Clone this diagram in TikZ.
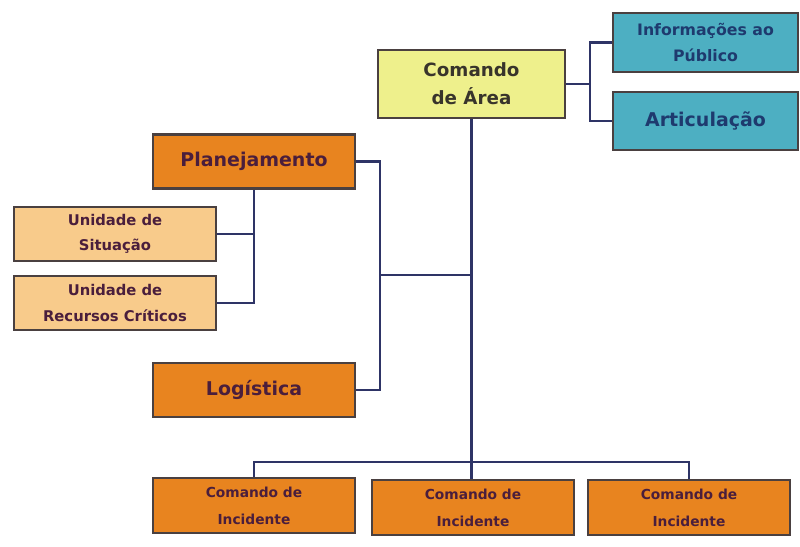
\documentclass[tikz,border=0pt]{standalone}
\usepackage{fontspec}
\setmainfont{DejaVu Sans}
\usepackage{xcolor}
\usepackage{tikz}
\usetikzlibrary{positioning,calc}

\definecolor{areafill}{HTML}{EEF08C}
\definecolor{tealfill}{HTML}{4DAFC2}
\definecolor{orgfill}{HTML}{E8841F}
\definecolor{lightorg}{HTML}{F8CB8B}
\definecolor{linecol}{HTML}{2E3466}
\definecolor{boxline}{HTML}{4A4040}
\definecolor{orgtext}{HTML}{4A1E3C}
\definecolor{tealtext}{HTML}{1E3A6E}

\begin{document}
\begin{tikzpicture}[x=0.025cm,y=-0.025cm,
    box/.style={draw=boxline, line width=1.7pt, align=center, font=\bfseries, inner sep=0pt},
    cmd/.style={box, fill=areafill, text=black!80!olive, minimum width=187*0.025cm, minimum height=68*0.025cm, font=\bfseries\fontsize{13}{20}\selectfont},
    staff/.style={box, fill=tealfill, text=tealtext, minimum width=185*0.025cm},
    sect/.style={box, fill=orgfill, text=orgtext, minimum width=202*0.025cm, minimum height=54*0.025cm, font=\bfseries\fontsize{13.5}{16}\selectfont},
    unit/.style={box, fill=lightorg, text=orgtext, minimum width=202*0.025cm, minimum height=54*0.025cm, font=\bfseries\fontsize{10.5}{18}\selectfont},
    inc/.style={box, fill=orgfill, text=orgtext, minimum width=202*0.025cm, minimum height=55*0.025cm, font=\bfseries\fontsize{9.8}{19}\selectfont},
    link/.style={draw=linecol, line width=2pt}]
    \useasboundingbox (0,0) rectangle (800,546);

    % comando e staff
    \node[cmd] (area) at (471.5,84) {Comando\\de Área};
    \node[staff, minimum height=59*0.025cm, font=\bfseries\fontsize{11.2}{18}\selectfont] (info) at (705.5,42.5) {Informações ao\\Público};
    \node[staff, minimum height=58*0.025cm, font=\bfseries\fontsize{13.5}{16}\selectfont] (artic) at (705.5,121) {Articulação};

    % secoes
    \node[sect] (plan) at (254,161.5) {Planejamento};
    \node[unit] (sit) at (115,234) {Unidade de\\Situação};
    \node[unit] (rec) at (115,303) {Unidade de\\Recursos Críticos};
    \node[sect] (log) at (254,390) {Logística};

    % comandos de incidente
    \node[inc] (ci1) at (254,505.5) {Comando de\\Incidente};
    \node[inc] (ci2) at (473,507.5) {Comando de\\Incidente};
    \node[inc] (ci3) at (689,507.5) {Comando de\\Incidente};

    \coordinate (ja) at (590,84);
    \coordinate (jp) at (380,275);
    \coordinate (jb) at (471.5,462);

    \draw[link] (area.east) -- (ja);
    \draw[link] (info.west) -| (ja) |- (artic.west);
    \draw[link] (plan.south) |- (rec.east);
    \draw[link] (sit.east) -- (sit.east -| plan.south);
    \draw[link] (plan.east) -| (jp) |- (log.east);
    \draw[link] (jp) -- (jp -| area.south);
    \draw[link] (area.south) -- (jb); % linha principal
    \draw[link] (ci1.north) |- (jb) -| (ci3.north);
    \draw[link] (jb) -- (jb |- ci2.north);
\end{tikzpicture}
\end{document}
